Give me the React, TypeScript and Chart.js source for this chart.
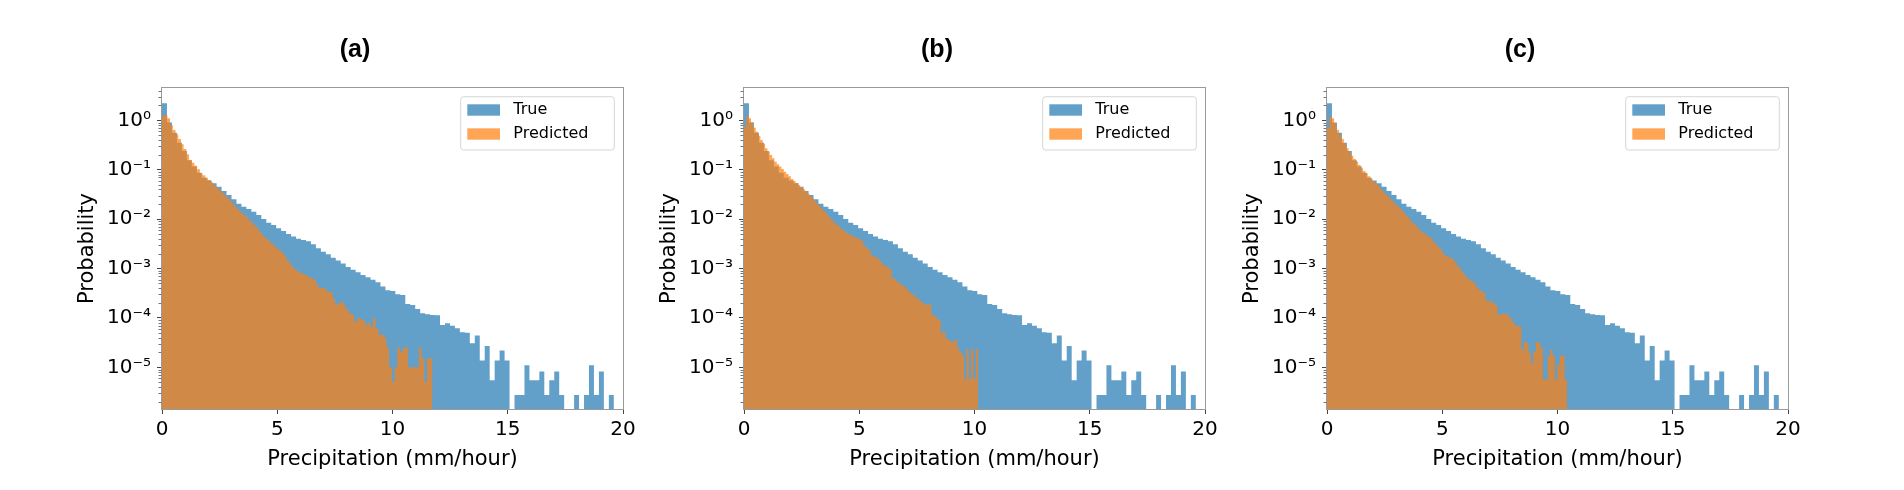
import React, { useEffect, useRef } from 'react';
import { Chart, registerables } from 'chart.js';

Chart.register(...registerables);
Chart.defaults.font.family = '"DejaVu Sans", sans-serif';

// ---------------- data ----------------
const BIN_COUNT = 100;
const TRUE_MAX = 21.54; // upper edge of the last "True" bin (mm/hour)
const PRED_MAX = [11.73, 10.16, 10.41]; // upper edge of the last "Predicted" bin per panel

const PANEL_TITLES = ['(a)', '(b)', '(c)'];
const SERIES_LABELS = ['True', 'Predicted'];
const X_TITLE = 'Precipitation (mm/hour)';
const Y_TITLE = 'Probability';
const X_TICKS = [0, 5, 10, 15, 20];
const X_TICK_LABELS = ['0', '5', '10', '15', '20'];
const Y_TICKS = [1e-5, 1e-4, 1e-3, 1e-2, 1e-1, 1];
const Y_TICK_LABELS = ['10⁻⁵', '10⁻⁴', '10⁻³', '10⁻²', '10⁻¹', '10⁰'];
const X_MIN = 0;
const X_MAX = 20;
const Y_MIN = 1.435e-6;
const Y_MAX = 4.52;

const TRUE_PROB = [
  2.21, 0.90, 0.564, 0.354, 0.240, 0.155, 0.116, 0.0873, 0.0692, 0.0603,
  0.0531, 0.0455, 0.0372, 0.0308, 0.0252, 0.0206, 0.0179, 0.0161, 0.0142, 0.0121,
  0.0101, 0.00849, 0.00762, 0.00652, 0.00575, 0.00501, 0.00443, 0.00403, 0.00378, 0.00356,
  0.00310, 0.00257, 0.00220, 0.00194, 0.00166, 0.00145, 0.00126, 0.00108, 0.000951, 0.000839,
  0.000741, 0.000665, 0.000596, 0.000526, 0.000431, 0.000363, 0.000352, 0.000301, 0.000292, 0.000192,
  0.000183, 0.000152, 0.000124, 0.000119, 0.000115, 0.000113, 0.0000721, 0.0000778, 0.0000698, 0.0000617,
  0.0000512, 0.0000500, 0.0000307, 0.0000439, 0.0000138, 0.0000271, 0.0000055, 0.0000138, 0.0000220, 0.0000138,
  0, 0.00000275, 0.00000275, 0.0000110, 0.0000055, 0.0000055, 0.00000825, 0.00000275, 0.0000055, 0.00000825,
  0.00000275, 0, 0, 0.00000275, 0, 0.00000275, 0.0000110, 0.00000275, 0.00000825, 0,
  0.00000275, 0, 0, 0, 0, 0, 0, 0, 0, 0,
];

const PRED_PROB_A = [
  1.245, 1.285, 1.10, 0.805, 0.638, 0.521, 0.420, 0.327, 0.263, 0.206,
  0.158, 0.138, 0.120, 0.102, 0.0851, 0.0776, 0.0692, 0.0617, 0.0550, 0.0490,
  0.0427, 0.0380, 0.0339, 0.0302, 0.0269, 0.0234, 0.0200, 0.0174, 0.0151, 0.0135,
  0.0120, 0.0110, 0.00933, 0.00832, 0.00741, 0.00631, 0.00550, 0.00457, 0.00417, 0.00372,
  0.00324, 0.00295, 0.00257, 0.00240, 0.00214, 0.00182, 0.00145, 0.00126, 0.00107, 0.000933,
  0.000871, 0.000813, 0.000776, 0.000708, 0.000676, 0.000634, 0.000587, 0.000465, 0.000398, 0.000405,
  0.000385, 0.000340, 0.000335, 0.000250, 0.000183, 0.000198, 0.000214, 0.000183, 0.000152, 0.000124,
  0.000115, 0.0000841, 0.0000984, 0.0000960, 0.0000910, 0.0000721, 0.0000778, 0.0000667, 0.0000984, 0.0000617,
  0.0000455, 0.0000455, 0.0000404, 0.0000253, 0.0000101, 0.00000505, 0.0000101, 0.0000253, 0.0000202, 0.0000253,
  0.0000253, 0.0000101, 0.0000101, 0.0000101, 0.0000101, 0.0000253, 0.0000152, 0.00000505, 0.0000152, 0.0000152,
];

const PRED_PROB_B = [
  0.746, 1.245, 1.10, 0.912, 0.711, 0.590, 0.490, 0.401, 0.338, 0.272,
  0.232, 0.199, 0.171, 0.146, 0.129, 0.116, 0.104, 0.0916, 0.0821, 0.0736,
  0.0650, 0.0593, 0.0540, 0.0492, 0.0448, 0.0408, 0.0372, 0.0328, 0.0294, 0.0260,
  0.0230, 0.0203, 0.0179, 0.0161, 0.0142, 0.0125, 0.0111, 0.00977, 0.00877, 0.00787,
  0.00716, 0.00653, 0.00594, 0.00550, 0.00509, 0.00479, 0.00450, 0.00429, 0.00409, 0.00391,
  0.00361, 0.00282, 0.00265, 0.00238, 0.00188, 0.00179, 0.00166, 0.00156, 0.00138, 0.00118,
  0.00115, 0.00104, 0.000980, 0.000655, 0.000615, 0.000543, 0.000502, 0.000465, 0.000431, 0.000386,
  0.000340, 0.000315, 0.000292, 0.000258, 0.000242, 0.000221, 0.000198, 0.000192, 0.000183, 0.000189,
  0.000115, 0.000111, 0.0000984, 0.0000910, 0.0000489, 0.0000528, 0.0000387, 0.0000358, 0.0000331, 0.0000342,
  0.0000358, 0.0000243, 0.0000208, 0.0000175, 0.00000583, 0.0000233, 0.00000583, 0.0000233, 0.00000583, 0.0000233,
];

const PRED_PROB_C = [
  0.690, 1.19, 1.10, 0.871, 0.638, 0.506, 0.420, 0.343, 0.272, 0.232,
  0.193, 0.165, 0.146, 0.125, 0.107, 0.0944, 0.0847, 0.0736, 0.0661, 0.0583,
  0.0524, 0.0469, 0.0408, 0.0366, 0.0323, 0.0290, 0.0260, 0.0230, 0.0206, 0.0185,
  0.0166, 0.0146, 0.0129, 0.0114, 0.0101, 0.00877, 0.00787, 0.00705, 0.00632, 0.00558,
  0.00516, 0.00479, 0.00443, 0.00409, 0.00351, 0.00310, 0.00274, 0.00249, 0.00203, 0.00182,
  0.00174, 0.00166, 0.00156, 0.00134, 0.00115, 0.00101, 0.000839, 0.000741, 0.000655, 0.000596,
  0.000560, 0.000502, 0.000424, 0.000374, 0.000352, 0.000320, 0.000231, 0.000207, 0.000225, 0.000198,
  0.000183, 0.000115, 0.000119, 0.000124, 0.000122, 0.000115, 0.0000984, 0.0000841, 0.0000721, 0.0000698,
  0.0000667, 0.0000228, 0.0000331, 0.0000307, 0.0000192, 0.0000121, 0.0000208, 0.0000331, 0.0000307, 0.0000243,
  0.00000569, 0.00000569, 0.0000171, 0.0000228, 0.0000171, 0.00000569, 0.0000114, 0.0000171, 0.0000171, 0.00000569,
];

const PRED_SERIES = [PRED_PROB_A, PRED_PROB_B, PRED_PROB_C];

// ---------------- styles ----------------
const BLUE = 'rgba(31,119,180,0.7)';
const ORANGE = 'rgba(255,127,14,0.7)';
const SPINE = '#9a9a9a';
const TICK = '#444444';
const MINOR_TICK = '#777777';
const CANVAS_W = 582;
const CANVAS_H = 490;
const CANVAS_LEFTS = [62, 644, 1227];

function histogramSteps(values: number[], upper: number) {
  const w = upper / values.length;
  const pts = values.map((v, i) => ({ x: i * w, y: v > 0 ? v : Y_MIN }));
  pts.push({ x: values.length * w, y: Y_MIN });
  return pts;
}

function minorLogTicks(min: number, max: number) {
  const out: number[] = [];
  for (let e = Math.floor(Math.log10(min)); e <= Math.ceil(Math.log10(max)); e++) {
    for (let m = 2; m <= 9; m++) {
      const v = m * Math.pow(10, e);
      if (v >= min && v <= max) out.push(v);
    }
  }
  return out;
}

function yLabel(value: number) {
  const i = Y_TICKS.findIndex((t) => Math.abs(Math.log10(t) - Math.log10(value)) < 1e-6);
  return i >= 0 ? Y_TICK_LABELS[i] : '';
}

function Panel({ index }: { index: number }) {
  const ref = useRef<HTMLCanvasElement>(null);

  useEffect(() => {
    const canvas = ref.current;
    if (!canvas) return;
    const title = PANEL_TITLES[index];
    const minors = minorLogTicks(Y_MIN, Y_MAX);

    const decor = {
      id: 'decor' + index,
      afterDraw(chart: any) {
        const { ctx, chartArea: a } = chart;
        const yScale = chart.scales.y;
        ctx.save();
        // frame
        ctx.strokeStyle = SPINE;
        ctx.lineWidth = 1;
        ctx.strokeRect(a.left - 0.5, a.top - 0.5, a.right - a.left + 1, a.bottom - a.top + 1);
        // minor ticks
        ctx.strokeStyle = MINOR_TICK;
        ctx.beginPath();
        minors.forEach((v) => {
          const y = Math.round(yScale.getPixelForValue(v)) + 0.5;
          ctx.moveTo(a.left - 3.5, y);
          ctx.lineTo(a.left - 0.5, y);
        });
        ctx.stroke();
        // legend
        const x0 = a.right - 162.3;
        const x1 = a.right - 8.7;
        const y0 = a.top + 8.7;
        const y1 = a.top + 62;
        ctx.beginPath();
        if (ctx.roundRect) ctx.roundRect(x0, y0, x1 - x0, y1 - y0, 3);
        else ctx.rect(x0, y0, x1 - x0, y1 - y0);
        ctx.fillStyle = 'rgba(255,255,255,0.8)';
        ctx.fill();
        ctx.strokeStyle = 'rgba(204,204,204,0.8)';
        ctx.stroke();
        ctx.fillStyle = BLUE;
        ctx.fillRect(x0 + 6.6, a.top + 16.3, 32.7, 11.4);
        ctx.fillStyle = ORANGE;
        ctx.fillRect(x0 + 6.6, a.top + 40.3, 32.7, 11.4);
        ctx.fillStyle = '#000';
        ctx.font = '16px "DejaVu Sans"';
        ctx.textAlign = 'left';
        ctx.textBaseline = 'middle';
        ctx.fillText(SERIES_LABELS[0], x0 + 52.6, a.top + 22);
        ctx.fillText(SERIES_LABELS[1], x0 + 52.6, a.top + 46);
        // panel title
        ctx.font = 'bold 25px "Liberation Sans"';
        ctx.textAlign = 'center';
        ctx.fillText(title, 293, 50);
        ctx.restore();
      },
    };

    const chart = new Chart(canvas, {
      type: 'line',
      data: {
        datasets: [
          {
            label: SERIES_LABELS[0],
            data: histogramSteps(TRUE_PROB, TRUE_MAX),
            stepped: 'before',
            fill: 'start',
            backgroundColor: BLUE,
            borderColor: 'rgba(0,0,0,0)',
            borderWidth: 0,
            pointRadius: 0,
            pointHitRadius: 0,
            order: 1,
          },
          {
            label: SERIES_LABELS[1],
            data: histogramSteps(PRED_SERIES[index], PRED_MAX[index]),
            stepped: 'before',
            fill: 'start',
            backgroundColor: ORANGE,
            borderColor: 'rgba(0,0,0,0)',
            borderWidth: 0,
            pointRadius: 0,
            pointHitRadius: 0,
            order: 0,
          },
        ],
      },
      options: {
        animation: false,
        responsive: false,
        events: [],
        layout: { padding: { left: 0, right: 21, top: 88, bottom: 0 } },
        plugins: {
          legend: { display: false },
          tooltip: { enabled: false },
          title: { display: false },
        },
        scales: {
          x: {
            type: 'linear',
            min: X_MIN,
            max: X_MAX,
            afterBuildTicks: (s: any) => {
              s.ticks = X_TICKS.map((v) => ({ value: v }));
            },
            afterFit: (s: any) => {
              s.height = 81;
            },
            ticks: {
              autoSkip: false,
              maxRotation: 0,
              padding: 4,
              color: '#000',
              font: { size: 20 },
              callback: (v: any) => X_TICK_LABELS[X_TICKS.indexOf(Number(v))] ?? '',
            },
            grid: { display: true, drawOnChartArea: false, drawTicks: true, tickLength: 5, tickColor: TICK },
            border: { display: false },
            title: {
              display: true,
              text: X_TITLE,
              color: '#000',
              font: { size: 21 },
              padding: { top: 0, bottom: 18 },
            },
          },
          y: {
            type: 'logarithmic',
            min: Y_MIN,
            max: Y_MAX,
            afterBuildTicks: (s: any) => {
              s.ticks = Y_TICKS.map((v) => ({ value: v }));
            },
            afterFit: (s: any) => {
              s.width = 100;
            },
            ticks: {
              autoSkip: false,
              padding: 6,
              color: '#000',
              font: { size: 20 },
              callback: (v: any) => yLabel(Number(v)),
            },
            grid: { display: true, drawOnChartArea: false, drawTicks: true, tickLength: 5, tickColor: TICK },
            border: { display: false },
            title: {
              display: true,
              text: Y_TITLE,
              color: '#000',
              font: { size: 21 },
              padding: { top: 13, bottom: 0 },
            },
          },
        },
      } as any,
      plugins: [decor],
    });
    return () => chart.destroy();
  }, [index]);

  return (
    <canvas
      ref={ref}
      width={CANVAS_W}
      height={CANVAS_H}
      style={{ position: 'absolute', left: CANVAS_LEFTS[index], top: 0, width: CANVAS_W, height: CANVAS_H }}
    />
  );
}

export default function App() {
  return (
    <div style={{ position: 'absolute', left: 0, top: 0, width: 1904, height: 490, background: '#fff', overflow: 'hidden' }}>
      {[0, 1, 2].map((i) => (
        <Panel key={i} index={i} />
      ))}
    </div>
  );
}
